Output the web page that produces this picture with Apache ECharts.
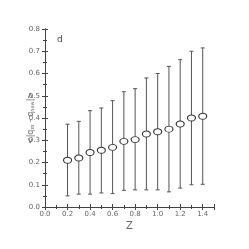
<!DOCTYPE html>
<html><head><meta charset="utf-8">
<script src="https://cdn.jsdelivr.net/npm/echarts@6/dist/echarts.min.js"></script>
<style>html,body{margin:0;padding:0;background:#fff}#c{width:249px;height:249px}</style>
</head><body><div id="c"></div>
<script>
const zValues = [0.2,0.3,0.4,0.5,0.6,0.7,0.8,0.9,1.0,1.1,1.2,1.3,1.4];
const meanValues = [0.21,0.22,0.245,0.255,0.268,0.295,0.303,0.328,0.338,0.35,0.373,0.40,0.408];
const upperValues = [0.372,0.385,0.433,0.445,0.478,0.518,0.532,0.58,0.60,0.632,0.662,0.70,0.715];
const lowerValues = [0.05,0.058,0.058,0.063,0.06,0.075,0.077,0.077,0.077,0.068,0.085,0.10,0.102];

const chart = echarts.init(document.getElementById('c'));
const errData = zValues.map((z,i)=>[z, lowerValues[i], upperValues[i]]);
const lblColor = '#666';
const axisCommon = {
  axisLine:{show:true,lineStyle:{color:'#444',width:1}},
  axisTick:{show:true,inside:true,length:3,lineStyle:{color:'#444'}},
  minorTick:{show:true,splitNumber:2,length:2,lineStyle:{color:'#444'}},
  splitLine:{show:false}
};
chart.setOption({
  animation:false,
  grid:{left:45,right:35,top:29,bottom:42},
  xAxis:[
    Object.assign({type:'value',min:0,max:1.5,interval:0.2,position:'bottom',
      name:'Z',nameLocation:'middle',nameGap:14,nameMoveOverlap:false,nameTextStyle:{color:lblColor,fontSize:10,fontFamily:'DejaVu Sans'},
      axisLabel:{color:lblColor,fontSize:7,fontFamily:'DejaVu Sans',margin:4,formatter:v=>v.toFixed(1),showMaxLabel:false}},axisCommon),
    Object.assign({type:'value',min:0,max:1.5,interval:0.2,position:'top',axisLabel:{show:false}},axisCommon)
  ],
  yAxis:[
    Object.assign({type:'value',min:0,max:0.8,interval:0.1,position:'left',
      name:'{a|<|q}{s|m}{a| - q}{s|new}{a||>}',nameLocation:'middle',nameGap:10,nameRotate:90,nameMoveOverlap:false,
      nameTextStyle:{rich:{a:{color:lblColor,fontSize:8,fontFamily:'DejaVu Sans'},s:{color:lblColor,fontSize:5,fontFamily:'DejaVu Sans',verticalAlign:'bottom',padding:[3,0,0,0]}}},
      axisLabel:{color:lblColor,fontSize:7,fontFamily:'DejaVu Sans',margin:5,formatter:v=>v.toFixed(1)}},axisCommon),
    Object.assign({type:'value',min:0,max:0.8,interval:0.1,position:'right',axisLabel:{show:false}},axisCommon)
  ],
  graphic:[{type:'text',left:57,top:35,style:{text:'d',fill:'#444',font:'9px DejaVu Sans'}}],
  series:[
    {type:'custom',data:errData,z:2,
      renderItem:function(params,api){
        const x=api.value(0);
        const lo=api.coord([x,api.value(1)]);
        const hi=api.coord([x,api.value(2)]);
        const c=2;
        const st={stroke:'#555',lineWidth:1};
        return {type:'group',children:[
          {type:'line',shape:{x1:lo[0],y1:lo[1],x2:hi[0],y2:hi[1]},style:st},
          {type:'line',shape:{x1:lo[0]-c,y1:lo[1],x2:lo[0]+c,y2:lo[1]},style:st},
          {type:'line',shape:{x1:hi[0]-c,y1:hi[1],x2:hi[0]+c,y2:hi[1]},style:st}
        ]};
      }},
    {type:'scatter',data:zValues.map((z,i)=>[z,meanValues[i]]),symbol:'circle',symbolSize:[8,6],z:3,
      itemStyle:{color:'#fff',borderColor:'#333',borderWidth:1,opacity:1}}
  ]
});
</script></body></html>
